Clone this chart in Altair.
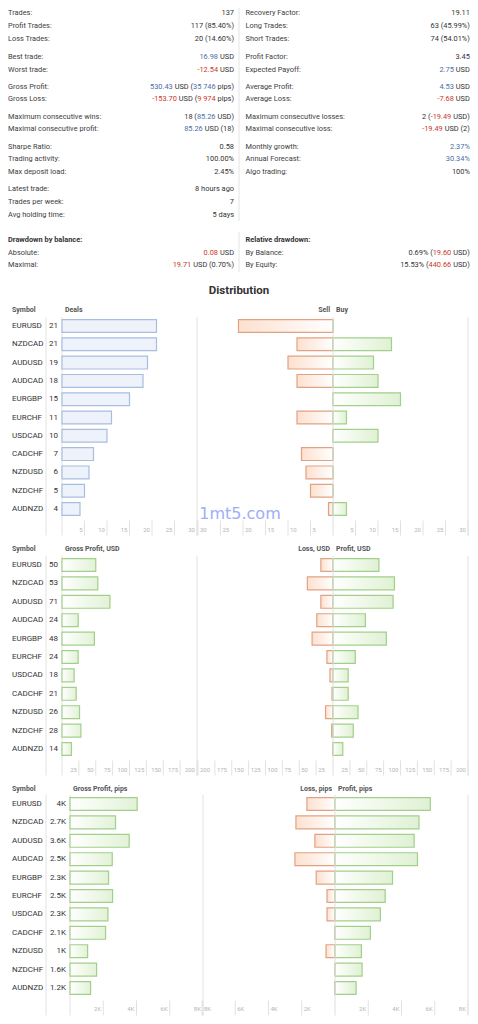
import altair as alt
import pandas as pd

FONT = "Roboto"
DARK = "#333333"
LABEL = "#3d3d3d"
BLUE = "#4a6ea8"
RED = "#c9372c"
TICK_TXT = "#b5b5b5"
GRID = "#e2e2e2"

# ---------------- data ----------------
symbols = ["EURUSD", "NZDCAD", "AUDUSD", "AUDCAD", "EURGBP", "EURCHF",
           "USDCAD", "CADCHF", "NZDUSD", "NZDCHF", "AUDNZD"]
deals = [21, 21, 19, 18, 15, 11, 10, 7, 6, 5, 4]
sell_deals = [21, 8, 10, 8, 0, 8, 0, 7, 6, 5, 1]
buy_deals = [0, 13, 9, 10, 15, 3, 10, 0, 0, 0, 3]

net_profit_usd = [50, 53, 71, 24, 48, 24, 18, 21, 26, 28, 14]
profit_usd = [68, 91, 89, 48, 79, 33, 22.5, 22.5, 37, 30, 14.5]
loss_usd = [18, 38, 18, 24, 31, 9, 4.5, 1.5, 11, 2, 0.5]

net_profit_pips = [4040, 2740, 3560, 2540, 2320, 2560, 2280, 2140, 1060, 1600, 1240]
net_profit_pips_labels = ["4K", "2.7K", "3.6K", "2.5K", "2.3K", "2.5K",
                          "2.3K", "2.1K", "1K", "1.6K", "1.2K"]
profit_pips = [5730, 5050, 4760, 4960, 3460, 3020, 2730, 2130, 1590, 1630, 1270]
loss_pips = [1690, 2350, 1210, 2410, 1130, 480, 480, 20, 540, 0, 20]

deal_ticks = [5, 10, 15, 20, 25, 30]
usd_ticks = [25, 50, 75, 100, 125, 150, 175, 200]
pip_ticks = [2000, 4000, 6000, 8000]

# stats: (label, [(text, colour-key), ...]) ; empty segment list = bold header
left_col = [
    [("Trades:", [("137", "n")])],
    [("Profit Trades:", [("117 (85.40%)", "n")]),
     ("Loss Trades:", [("20 (14.60%)", "n")])],
    [("Best trade:", [("16.98", "b"), (" USD", "n")]),
     ("Worst trade:", [("-12.54", "r"), (" USD", "n")])],
    [("Gross Profit:", [("530.43", "b"), (" USD (", "n"), ("35 746", "b"), (" pips)", "n")]),
     ("Gross Loss:", [("-153.70", "r"), (" USD (", "n"), ("9 974", "r"), (" pips)", "n")])],
    [("Maximum consecutive wins:", [("18 (", "n"), ("85.26", "b"), (" USD)", "n")]),
     ("Maximal consecutive profit:", [("85.26", "b"), (" USD (18)", "n")])],
    [("Sharpe Ratio:", [("0.58", "n")]),
     ("Trading activity:", [("100.00%", "n")]),
     ("Max deposit load:", [("2.45%", "n")])],
    [("Latest trade:", [("8 hours ago", "n")]),
     ("Trades per week:", [("7", "n")]),
     ("Avg holding time:", [("5 days", "n")])],
    [("Drawdown by balance:", []),
     ("Absolute:", [("0.08", "r"), (" USD", "n")]),
     ("Maximal:", [("19.71", "r"), (" USD (0.70%)", "n")])],
]
right_col = [
    [("Recovery Factor:", [("19.11", "n")])],
    [("Long Trades:", [("63 (45.99%)", "n")]),
     ("Short Trades:", [("74 (54.01%)", "n")])],
    [("Profit Factor:", [("3.45", "n")]),
     ("Expected Payoff:", [("2.75", "b"), (" USD", "n")])],
    [("Average Profit:", [("4.53", "b"), (" USD", "n")]),
     ("Average Loss:", [("-7.68", "r"), (" USD", "n")])],
    [("Maximum consecutive losses:", [("2 (", "n"), ("-19.49", "r"), (" USD)", "n")]),
     ("Maximal consecutive loss:", [("-19.49", "r"), (" USD (2)", "n")])],
    [("Monthly growth:", [("2.37%", "b")]),
     ("Annual Forecast:", [("30.34%", "b")]),
     ("Algo trading:", [("100%", "n")])],
    [],
    [("Relative drawdown:", []),
     ("By Balance:", [("0.69% (", "n"), ("19.60", "r"), (" USD)", "n")]),
     ("By Equity:", [("15.53% (", "n"), ("440.66", "r"), (" USD)", "n")])],
]

# ---------------- layout helpers ----------------
def P(v):
    return v - 8

FS = 7.4
ROBOTO_W = {" ": .248, ".": .263, "(": .342, ")": .348, "%": .732, "-": .276,
            "U": .647, "S": .608, "D": .654, "p": .5605, "i": .243, "s": .516}
for d in "0123456789":
    ROBOTO_W[d] = .5615


def tw(s):
    return sum(ROBOTO_W.get(ch, .55) for ch in s) * FS


dummy = pd.DataFrame({"a": [0]})
layers = []

# ---------------- stats block ----------------
group_y = [(12.5, 12.5), (26, 39.3), (56.7, 69.7), (86.7, 99), (116.7, 129),
           (146.7, 171.7), (188.7, 214.7), (240, 265.3)]
colour_scale = alt.Scale(domain=["n", "b", "r"], range=[DARK, BLUE, RED])

for g in range(len(group_y)):
    rows, hdr, vals = [], [], []
    for col, spec in (("L", left_col), ("R", right_col)):
        for r, (lab, segs) in enumerate(spec[g]):
            (rows if segs else hdr).append(dict(col=col, r=r, label=lab))
            for i, (t, c) in enumerate(segs):
                off = -sum(tw(t2) for t2, _ in segs[i + 1:])
                vals.append(dict(col=col, r=r, t=t, c=c, off=off))
    n = max(len(left_col[g]), len(right_col[g]))
    y0, y1 = group_y[g]
    ysc = alt.Scale(type="point", domain=list(range(n)), range=[P(y0), P(y1)], padding=0)
    xl = alt.X("col:N", axis=None,
               scale=alt.Scale(type="point", domain=["L", "R"], range=[P(8), P(245.5)], padding=0))
    xv = alt.X("col:N", axis=None,
               scale=alt.Scale(type="point", domain=["L", "R"], range=[P(234), P(469.8)], padding=0))
    yy = alt.Y("r:O", scale=ysc, axis=None)
    if rows:
        layers.append(alt.Chart(pd.DataFrame(rows)).mark_text(
            align="left", baseline="middle", font=FONT, fontSize=FS, color=LABEL
        ).encode(x=xl, y=yy, text="label:N"))
    if hdr:
        layers.append(alt.Chart(pd.DataFrame(hdr)).mark_text(
            align="left", baseline="middle", font=FONT, fontSize=FS, fontWeight="bold", color=DARK
        ).encode(x=xl, y=yy, text="label:N"))
    if vals:
        layers.append(alt.Chart(pd.DataFrame(vals)).mark_text(
            align="right", baseline="middle", font=FONT, fontSize=FS
        ).encode(
            x=xv, y=yy, text="t:N",
            xOffset=alt.XOffset("off:Q", scale=alt.Scale(domain=[-300, 0], range=[-300, 0])),
            color=alt.Color("c:N", scale=colour_scale, legend=None)))

# column dividers
for ya, yb in ((8, 221), (232, 272)):
    layers.append(alt.Chart(dummy).mark_rule(color="#e4e4e4", strokeWidth=1).encode(
        x=alt.value(P(239)), y=alt.value(P(ya)), y2=alt.value(P(yb))))

# title
layers.append(alt.Chart(dummy).mark_text(
    text="Distribution", font=FONT, fontSize=11.5, fontWeight="bold", color=DARK,
    align="center", baseline="middle").encode(x=alt.value(P(239)), y=alt.value(P(291))))

# ---------------- distribution panels ----------------
BLUE_FILL = "#eef3fb"
BLUE_STROKE = "#a8bddf"
GREEN_STROKE = "#a2cf8a"
ORANGE_STROKE = "#e3a183"


def grad(c0, c1):
    return alt.Gradient(gradient="linear", x1=0, x2=1, y1=0, y2=0,
                        stops=[alt.GradientStop(color=c0, offset=0),
                               alt.GradientStop(color=c1, offset=1)])


def panel(top, bottom, head_y, tick_y0, tick_y1, lab_y,
          lmax, lrange, rmax, rrange, val_x,
          left_vals, left_labels, neg_vals, pos_vals,
          ticks, fmt, heads, left_kind):
    df = pd.DataFrame({"symbol": symbols, "lv": left_vals, "lab": left_labels,
                       "neg": [-v for v in neg_vals], "pos": pos_vals})
    ysc = alt.Scale(type="band", domain=symbols, range=[P(top), P(bottom)],
                    paddingInner=0.3, paddingOuter=0.15)
    y = alt.Y("symbol:N", scale=ysc, axis=None)
    lsc = alt.Scale(domain=[0, lmax], range=[P(lrange[0]), P(lrange[1])], nice=False)
    rsc = alt.Scale(domain=[-rmax, rmax], range=[P(rrange[0]), P(rrange[1])], nice=False)
    out = []
    base = alt.Chart(df)

    # headers
    out.append(alt.Chart(dummy).mark_text(
        text="Symbol", font=FONT, fontSize=7, fontWeight="bold", color="#555555",
        align="left", baseline="middle").encode(x=alt.value(P(12)), y=alt.value(P(head_y))))
    out.append(alt.Chart(dummy).mark_text(
        text=heads[0], font=FONT, fontSize=7, fontWeight="bold", color="#555555",
        align="left", baseline="middle", dx=3).encode(
        x=alt.X("a:Q", scale=lsc, axis=None), y=alt.value(P(head_y))))
    out.append(alt.Chart(dummy).mark_text(
        text=heads[1], font=FONT, fontSize=7, fontWeight="bold", color="#555555",
        align="right", baseline="middle", dx=-3).encode(
        x=alt.X("a:Q", scale=rsc, axis=None), y=alt.value(P(head_y))))
    out.append(alt.Chart(dummy).mark_text(
        text=heads[2], font=FONT, fontSize=7, fontWeight="bold", color="#555555",
        align="left", baseline="middle", dx=3).encode(
        x=alt.X("a:Q", scale=rsc, axis=None), y=alt.value(P(head_y))))

    # long vertical lines
    out.append(alt.Chart(dummy).mark_rule(color=GRID).encode(
        x=alt.value(P(46)), y=alt.value(P(top)), y2=alt.value(P(tick_y1))))
    edge = pd.DataFrame({"v": [0, lmax]})
    out.append(alt.Chart(edge).mark_rule(color=GRID).encode(
        x=alt.X("v:Q", scale=lsc, axis=None), y=alt.value(P(top)), y2=alt.value(P(tick_y1))))
    redge = pd.DataFrame({"v": [rmax]})
    out.append(alt.Chart(redge).mark_rule(color=GRID).encode(
        x=alt.X("v:Q", scale=rsc, axis=None), y=alt.value(P(top)), y2=alt.value(P(tick_y1))))

    # tick marks and labels
    lt = pd.DataFrame({"v": ticks, "t": [fmt(v) for v in ticks]})
    rneg = pd.DataFrame({"v": [-v for v in ticks], "t": [fmt(v) for v in ticks]})
    out.append(alt.Chart(lt).mark_rule(color=GRID).encode(
        x=alt.X("v:Q", scale=lsc, axis=None), y=alt.value(P(tick_y0)), y2=alt.value(P(tick_y1))))
    out.append(alt.Chart(lt).mark_text(font=FONT, fontSize=6, color=TICK_TXT, align="right",
                                       baseline="middle", dx=-2).encode(
        x=alt.X("v:Q", scale=lsc, axis=None), y=alt.value(P(lab_y)), text="t:N"))
    out.append(alt.Chart(lt).mark_rule(color=GRID).encode(
        x=alt.X("v:Q", scale=rsc, axis=None), y=alt.value(P(tick_y0)), y2=alt.value(P(tick_y1))))
    out.append(alt.Chart(lt).mark_text(font=FONT, fontSize=6, color=TICK_TXT, align="right",
                                       baseline="middle", dx=-2).encode(
        x=alt.X("v:Q", scale=rsc, axis=None), y=alt.value(P(lab_y)), text="t:N"))
    out.append(alt.Chart(rneg).mark_rule(color=GRID).encode(
        x=alt.X("v:Q", scale=rsc, axis=None), y=alt.value(P(tick_y0)), y2=alt.value(P(tick_y1))))
    out.append(alt.Chart(rneg).mark_text(font=FONT, fontSize=6, color=TICK_TXT, align="left",
                                         baseline="middle", dx=2).encode(
        x=alt.X("v:Q", scale=rsc, axis=None), y=alt.value(P(lab_y)), text="t:N"))

    # left bars
    if left_kind == "blue":
        lmark = base.mark_bar(fill=BLUE_FILL, stroke=BLUE_STROKE, strokeWidth=1.2)
    else:
        lmark = base.mark_bar(fill=grad("#ffffff", "#e2f2d7"), stroke=GREEN_STROKE, strokeWidth=1.2)
    out.append(lmark.encode(x=alt.X("lv:Q", scale=lsc, axis=None), y=y))

    # right bars
    out.append(base.mark_bar(fill=grad("#fde0cf", "#ffffff"), stroke=ORANGE_STROKE,
                             strokeWidth=1.2).encode(
        x=alt.X("neg:Q", scale=rsc, axis=None), y=y))
    out.append(base.mark_bar(fill=grad("#ffffff", "#dff1d3"), stroke=GREEN_STROKE,
                             strokeWidth=1.2).encode(
        x=alt.X("pos:Q", scale=rsc, axis=None), y=y))
    # centre line on top
    out.append(alt.Chart(pd.DataFrame({"v": [0]})).mark_rule(color="#dedede").encode(
        x=alt.X("v:Q", scale=rsc, axis=None), y=alt.value(P(top)), y2=alt.value(P(tick_y1))))

    # symbol and value texts
    out.append(base.mark_text(font=FONT, fontSize=8, color=DARK, align="left",
                              baseline="middle").encode(
        x=alt.value(P(12)), y=y, text="symbol:N"))
    out.append(base.mark_text(font=FONT, fontSize=8, color=DARK, align="right",
                              baseline="middle").encode(
        x=alt.value(P(val_x)), y=y, text="lab:N"))
    return out


layers += panel(316.85, 518.15, 310, 520.5, 535.5, 529.5,
                30, (62, 197), 30, (198, 468), 58,
                deals, [str(v) for v in deals], sell_deals, buy_deals,
                deal_ticks, lambda v: str(v), ("Deals", "Sell", "Buy"), "blue")

layers += panel(555.8, 758.2, 549, 760.5, 775.5, 769.5,
                200, (62, 197), 200, (198, 468), 58,
                net_profit_usd, [str(v) for v in net_profit_usd], loss_usd, profit_usd,
                usd_ticks, lambda v: str(v), ("Gross Profit, USD", "Loss, USD", "Profit, USD"),
                "green")

layers += panel(794.8, 997.2, 789, 1000.5, 1015.5, 1009,
                8000, (70, 203), 8000, (202, 468), 66,
                net_profit_pips, net_profit_pips_labels, loss_pips, profit_pips,
                pip_ticks, lambda v: f"{v // 1000}K",
                ("Gross Profit, pips", "Loss, pips", "Profit, pips"), "green")

# watermark
layers.append(alt.Chart(dummy).mark_text(
    text="1mt5.com", font="DejaVu Sans", fontSize=16, color="#9eaef6",
    align="center", baseline="middle").encode(x=alt.value(P(240)), y=alt.value(P(514))))

chart = alt.layer(*layers).properties(
    width=462, height=1008, padding=0, autosize=alt.AutoSizeParams(type="none")
).resolve_scale(x="independent", y="independent").configure_view(stroke=None)

chart.save("out.html", embed_options={"renderer": "svg", "actions": False})
